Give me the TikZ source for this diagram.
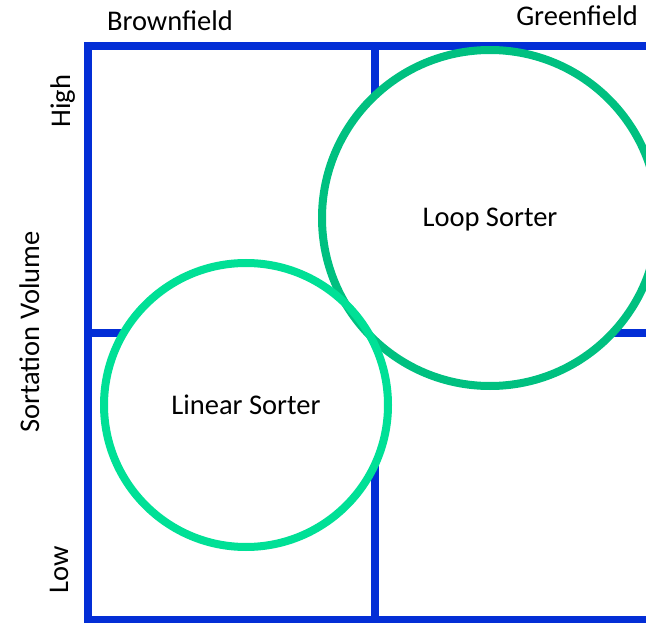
\documentclass[tikz,border=0pt]{standalone}
\usepackage{fontspec}
\setmainfont{Carlito}
\definecolor{gridblue}{RGB}{3,46,214}
\definecolor{lineargreen}{RGB}{0,224,150}
\definecolor{loopgreen}{RGB}{0,192,128}
\tikzset{
  gridline/.style={draw=gridblue, line width=8pt},
  ring/.style={circle, line width=8pt, inner sep=0pt, text height=18pt, text depth=0pt},
  lbl/.style={font=\fontsize{28.5}{34}\selectfont, inner sep=0pt},
}
\begin{document}
\begin{tikzpicture}[x=1pt, y=-1pt]
  \useasboundingbox (0,0) rectangle (646,623);
  \clip (0,0) rectangle (646,623);
  % quadrant grid
  \coordinate (tl) at (88,46);
  \coordinate (br) at (662,620);
  \coordinate (tm) at (375,46);
  \coordinate (bm) at (375,620);
  \coordinate (ml) at (88,333);
  \coordinate (mr) at (662,333);
  \draw[gridline] (tl) rectangle (br);
  \draw[gridline] (tm) -- (bm);
  \draw[gridline] (ml) -- (mr);
  % circle centres
  \coordinate (cloop) at (490,218);
  \coordinate (clinear) at (246,405);
  % white discs hide the grid behind both circles
  \fill[white] (cloop) circle[radius=168];
  \fill[white] (clinear) circle[radius=142];
  % outlines and labels
  \node[lbl, ring, draw=loopgreen, minimum size=336pt] (loop) at (cloop) {Loop Sorter};
  \node[lbl, ring, draw=lineargreen, minimum size=284pt] (linear) at (clinear) {Linear Sorter};
  % axis labels
  \node[lbl, anchor=base] (brown) at (170,31) {Brownfield};
  \node[lbl, anchor=base] (green) at (577,26) {Greenfield};
  \node[lbl, rotate=90, anchor=base] (high) at (70,101) {High};
  \node[lbl, rotate=90, anchor=base] (low) at (68,570) {Low};
  \node[lbl, rotate=90, anchor=base] (vol) at (39,332) {Sortation Volume};
\end{tikzpicture}
\end{document}
